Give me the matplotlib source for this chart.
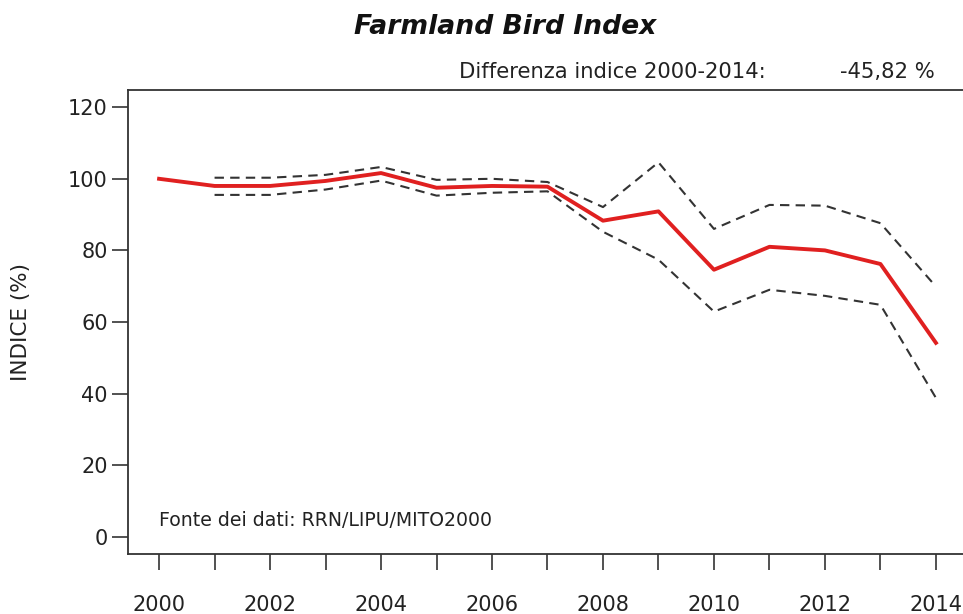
import matplotlib
matplotlib.use("Agg")
import matplotlib.pyplot as plt

years = list(range(2000, 2015))
index = [100, 98.0, 98.0, 99.4, 101.6, 97.5, 98.0, 97.8, 88.3, 90.9, 74.6, 81.0, 80.0, 76.2, 54.18]
upper_years = list(range(2001, 2015))
upper = [100.3, 100.3, 101.1, 103.3, 99.7, 100.0, 99.1, 92.1, 104.6, 86.0, 92.7, 92.5, 87.6, 69.9]
lower = [95.5, 95.5, 97.0, 99.5, 95.3, 96.1, 96.5, 85.2, 77.4, 62.9, 69.0, 67.3, 64.8, 38.8]
yticks = [0, 20, 40, 60, 80, 100, 120]
xticks = list(range(2000, 2015))
xlabels = [str(y) if y % 2 == 0 else "" for y in xticks]

plt.rcParams['font.family'] = ['DejaVu Sans']
fig = plt.figure(figsize=(9.63, 6.14), dpi=100)
ax = fig.add_axes([128/963, 1-554/614, (967-128)/963, (554-90)/614])

txtc = "#222222"
ax.plot(upper_years, upper, color="#333333", lw=1.5, ls=(0, (4.5, 3)))
ax.plot(upper_years, lower, color="#333333", lw=1.5, ls=(0, (4.5, 3)))
ax.plot(years, index, color="#e02020", lw=2.8, solid_joinstyle="round")

ax.set_xlim(1999.44, 2014.56)
ax.set_ylim(-4.8, 124.8)
ax.set_yticks(yticks)
ax.set_xticks(xticks)
ax.set_xticklabels(xlabels)
for s in ax.spines.values():
    s.set_color("#333333")
    s.set_linewidth(1.3)
ax.tick_params(axis="x", direction="out", length=11.5, width=1.2, pad=18,
               labelsize=15, colors="#333333", labelcolor=txtc)
ax.tick_params(axis="y", direction="out", length=11.5, width=1.2, pad=3,
               labelsize=15, colors="#333333", labelcolor=txtc)
ax.set_ylabel("INDICE (%)", fontsize=15.5, color=txtc)
ax.yaxis.set_label_coords(-(128-31)/(967-128), 0.5)

ax.text(2000.0, 2, "Fonte dei dati: RRN/LIPU/MITO2000", fontsize=13.6, color=txtc,
        va="bottom", ha="left")

fig.text(505/963, 1-27/614, "Farmland Bird Index", fontsize=19.2, fontweight="bold",
         fontstyle="italic", ha="center", va="center", color="#111111")
fig.text(459/963, 1-72/614, "Differenza indice 2000-2014:", fontsize=15.2,
         ha="left", va="center", color=txtc)
fig.text(935/963, 1-72/614, "-45,82 %", fontsize=15.2, ha="right", va="center", color=txtc)

fig.savefig("out.png", dpi=100)
